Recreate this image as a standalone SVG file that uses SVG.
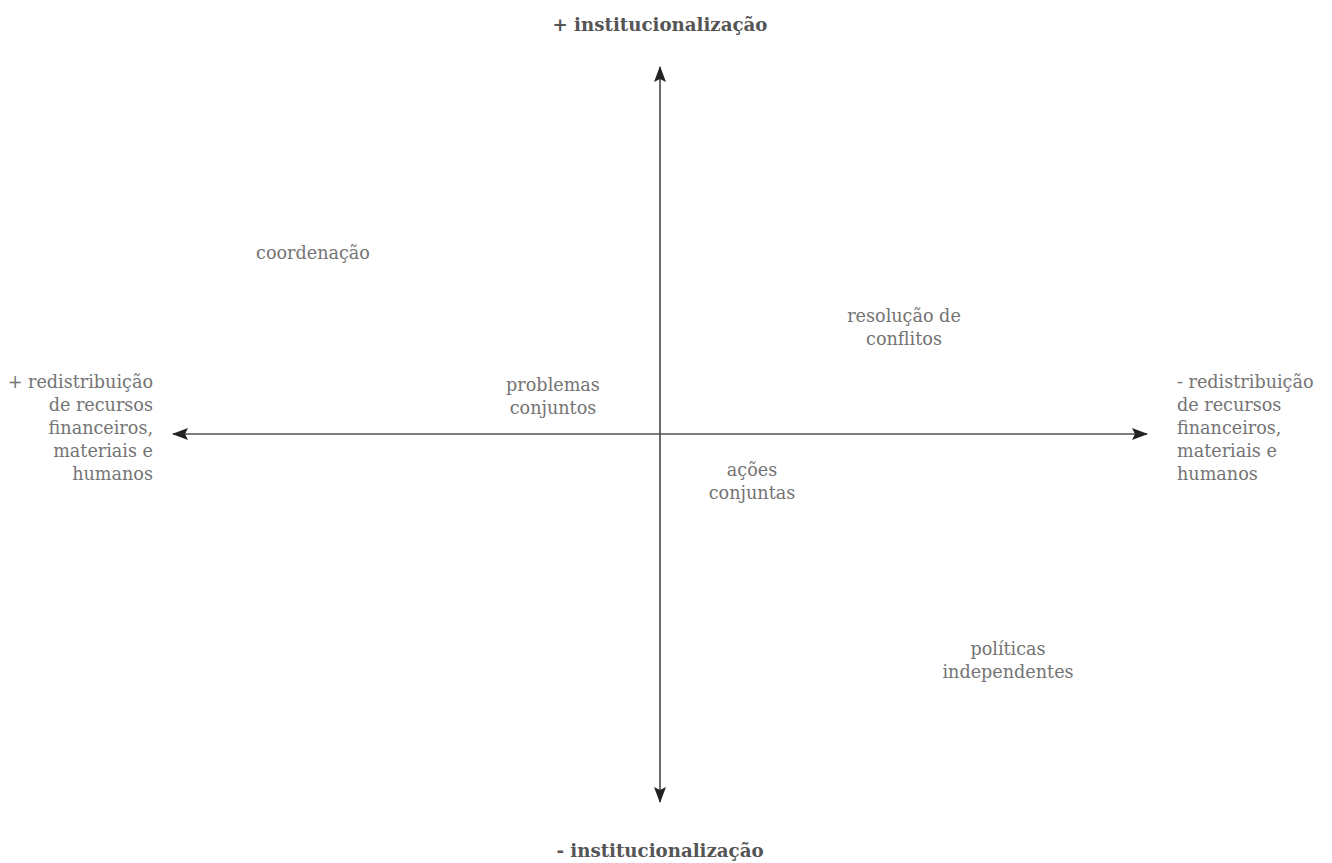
<svg xmlns="http://www.w3.org/2000/svg" width="1332" height="863" viewBox="0 0 1332 863">
<defs>
<style>
.t{font-family:"DejaVu Serif","Liberation Serif",serif;font-size:17.6px;fill:#747474;}
.b{font-family:"DejaVu Serif","Liberation Serif",serif;font-size:18.2px;font-weight:bold;fill:#555;}
.ax{stroke:#505050;stroke-width:1.7;fill:none;}
</style>
<marker id="ah" viewBox="0 0 16 12" refX="15" refY="6" markerWidth="16" markerHeight="12" markerUnits="userSpaceOnUse" orient="auto">
<path d="M0,0 L16,6 L0,12 L3,6 Z" fill="#222"/>
</marker>
</defs>
<rect width="1332" height="863" fill="#fff"/>
<g id="connectors">
<line class="ax" x1="660" y1="434" x2="660" y2="67" marker-end="url(#ah)"/>
<line class="ax" x1="660" y1="434" x2="660" y2="802" marker-end="url(#ah)"/>
<line class="ax" x1="660" y1="434" x2="173" y2="434" marker-end="url(#ah)"/>
<line class="ax" x1="660" y1="434" x2="1147" y2="434" marker-end="url(#ah)"/>
</g>
<g id="top-label"><text class="b" x="660" y="31" text-anchor="middle">+ institucionalização</text></g>
<g id="bottom-label"><text class="b" x="660" y="857" text-anchor="middle">- institucionalização</text></g>
<g id="left-label">
<text class="t" x="153" y="388" text-anchor="end">+ redistribuição</text>
<text class="t" x="153" y="411" text-anchor="end">de recursos</text>
<text class="t" x="153" y="434" text-anchor="end">financeiros,</text>
<text class="t" x="153" y="457" text-anchor="end">materiais e</text>
<text class="t" x="153" y="480" text-anchor="end">humanos</text>
</g>
<g id="right-label">
<text class="t" x="1177" y="388">- redistribuição</text>
<text class="t" x="1177" y="411">de recursos</text>
<text class="t" x="1177" y="434">financeiros,</text>
<text class="t" x="1177" y="457">materiais e</text>
<text class="t" x="1177" y="480">humanos</text>
</g>
<g id="coordenacao"><text class="t" x="313" y="259" text-anchor="middle">coordenação</text></g>
<g id="resolucao">
<text class="t" x="904" y="322" text-anchor="middle">resolução de</text>
<text class="t" x="904" y="345" text-anchor="middle">conflitos</text>
</g>
<g id="problemas">
<text class="t" x="553" y="391" text-anchor="middle">problemas</text>
<text class="t" x="553" y="414" text-anchor="middle">conjuntos</text>
</g>
<g id="acoes">
<text class="t" x="752" y="476" text-anchor="middle">ações</text>
<text class="t" x="752" y="499" text-anchor="middle">conjuntas</text>
</g>
<g id="politicas">
<text class="t" x="1008" y="655" text-anchor="middle">políticas</text>
<text class="t" x="1008" y="678" text-anchor="middle">independentes</text>
</g>
</svg>
